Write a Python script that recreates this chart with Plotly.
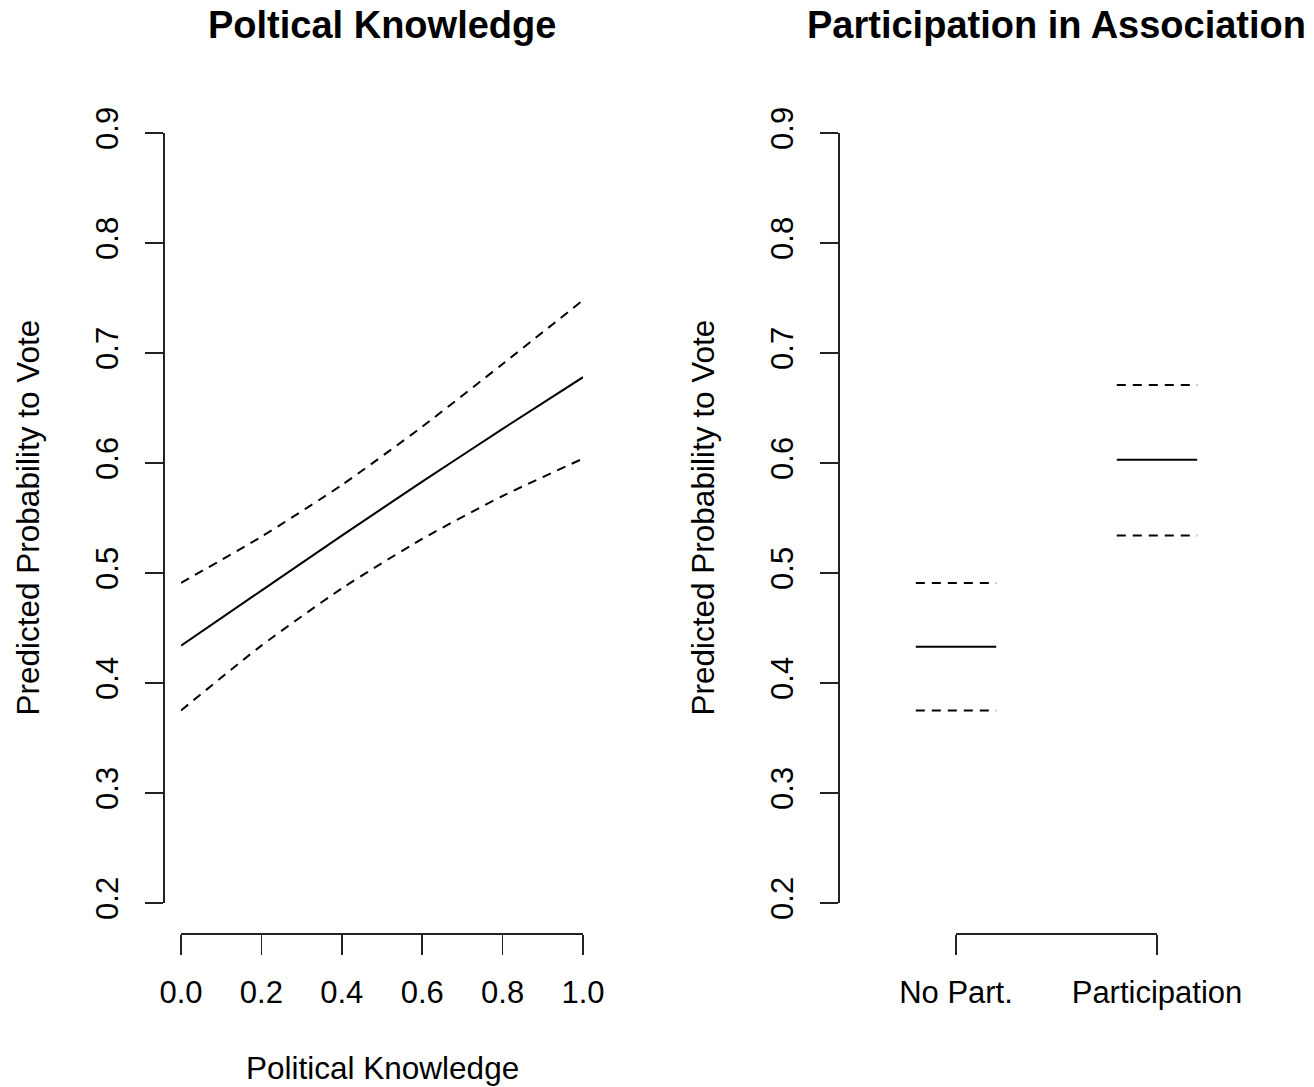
import plotly.graph_objects as go

W, H = 1314, 1087
FONT = "Liberation Sans, Arial, Helvetica, sans-serif"

# ---------------- data ----------------
knowledge = [0.0, 0.2, 0.4, 0.6, 0.8, 1.0]
know_fit = [0.434, 0.484, 0.534, 0.583, 0.631, 0.678]
know_upper = [0.491, 0.533, 0.580, 0.633, 0.690, 0.748]
know_lower = [0.375, 0.434, 0.486, 0.531, 0.570, 0.604]

part_categories = ["No Part.", "Participation"]
part_fit = [0.433, 0.603]
part_upper = [0.491, 0.671]
part_lower = [0.375, 0.534]

x_tickvals = [0.0, 0.2, 0.4, 0.6, 0.8, 1.0]
x_ticktext = ["0.0", "0.2", "0.4", "0.6", "0.8", "1.0"]
y_tickvals = [0.2, 0.3, 0.4, 0.5, 0.6, 0.7, 0.8, 0.9]
y_ticktext = ["0.2", "0.3", "0.4", "0.5", "0.6", "0.7", "0.8", "0.9"]

titles = ["Poltical Knowledge", "Participation in Association"]
xlabel_left = "Political Knowledge"
ylabel = "Predicted Probability to Vote"

# ---------------- helpers (screen pixel -> paper) ----------------
def px(p):
    return p / W

def py(p):
    return 1 - p / H

LINE = dict(color="black", width=2, shape="spline", smoothing=0.6)
DASH = dict(color="black", width=2, dash="9px,7px", shape="spline", smoothing=0.6)
SEG = dict(color="black", width=2)
SEGD = dict(color="black", width=2, dash="9px,7px")
AXCOL = "#222222"
AXW = 1.6

# right panel category positions and half-width of the segments
cat_pos = [i + 1 for i in range(len(part_categories))]
half = 0.2

def segs(vals):
    xs, ys = [], []
    for p, v in zip(cat_pos, vals):
        xs += [p - half, p + half, None]
        ys += [v, v, None]
    return xs, ys

fig = go.Figure()

# left panel
for vals, style in [(know_fit, LINE), (know_upper, DASH), (know_lower, DASH)]:
    fig.add_trace(go.Scatter(x=knowledge, y=vals, mode="lines", line=style,
                             xaxis="x", yaxis="y", showlegend=False, hoverinfo="skip"))

# right panel
for vals, style in [(part_fit, SEG), (part_upper, SEGD), (part_lower, SEGD)]:
    xs, ys = segs(vals)
    fig.add_trace(go.Scatter(x=xs, y=ys, mode="lines", line=style,
                             xaxis="x2", yaxis="y2", showlegend=False, hoverinfo="skip"))
# empty trace to create the category tick axis subplot
fig.add_trace(go.Scatter(x=[None], y=[None], mode="lines", xaxis="x3", yaxis="y2",
                         showlegend=False, hoverinfo="skip"))

tickfont = dict(family=FONT, size=31, color="black")

xtick_common = dict(
    anchor="free", position=py(933), showline=True, linecolor=AXCOL, linewidth=AXW,
    ticks="outside", ticklen=20, tickwidth=AXW, tickcolor=AXCOL,
    showgrid=False, zeroline=False, tickfont=tickfont, ticklabelstandoff=11,
)
ytick_common = dict(
    anchor="free", showline=True, linecolor=AXCOL, linewidth=AXW,
    ticks="outside", ticklen=18, tickwidth=AXW, tickcolor=AXCOL,
    showgrid=False, zeroline=False, tickfont=tickfont, tickangle=-90,
    tickvals=y_tickvals, ticktext=y_ticktext, range=[0.2, 0.9],
    domain=[py(903), py(133)], ticklabelstandoff=15,
)

# right panel data axis: categories at 1 and 2 mapped to px 956 and 1157
c0, c1 = 956, 1157
scale = c1 - c0
r_lo, r_hi = 0.42, 2.58
dom2 = [px(c0 + (r_lo - 1) * scale), px(c1 + (r_hi - 2) * scale)]

fig.update_layout(
    width=W, height=H, template="none",
    margin=dict(l=0, r=0, t=0, b=0),
    paper_bgcolor="white", plot_bgcolor="rgba(0,0,0,0)",
    font=dict(family=FONT, color="black"),
    xaxis=dict(domain=[px(181), px(583)], range=[0, 1],
               tickvals=x_tickvals, ticktext=x_ticktext, **xtick_common),
    yaxis=dict(position=px(163), **ytick_common),
    xaxis2=dict(domain=dom2, range=[r_lo, r_hi], visible=False, anchor="y2"),
    yaxis2=dict(position=px(838), **ytick_common),
    xaxis3=dict(domain=[px(c0), px(c1)], range=[1, 2],
                tickvals=cat_pos, ticktext=part_categories, **xtick_common),
)

ann = []
left_c = px((165 + 599) / 2)
right_c = (dom2[0] + dom2[1]) / 2
for cx, t in zip([left_c, right_c], titles):
    ann.append(dict(text="<b>" + t + "</b>", x=cx, y=py(25), xref="paper", yref="paper",
                    xanchor="center", yanchor="middle", showarrow=False,
                    font=dict(family=FONT, size=38, color="black")))
ann.append(dict(text=xlabel_left, x=left_c, y=py(1068), xref="paper", yref="paper",
                xanchor="center", yanchor="middle", showarrow=False,
                font=dict(family=FONT, size=31.5, color="black")))
for xp in [27.5, 702.5]:
    ann.append(dict(text=ylabel, x=px(xp), y=py(518), xref="paper", yref="paper",
                    xanchor="center", yanchor="middle", textangle=-90, showarrow=False,
                    font=dict(family=FONT, size=31.5, color="black")))
fig.update_layout(annotations=ann)

fig.write_html("out.html",
               config={"displayModeBar": False, "staticPlot": True},
               post_script="document.body.style.margin='0px';document.body.style.overflow='hidden';")
